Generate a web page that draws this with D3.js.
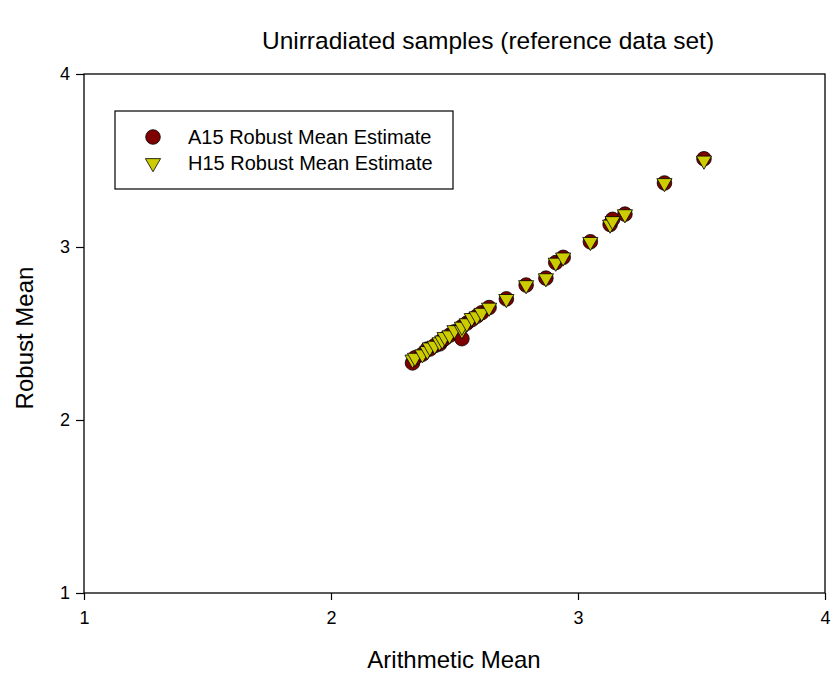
<!DOCTYPE html>
<html>
<head>
<meta charset="utf-8">
<script src="https://cdn.jsdelivr.net/npm/d3@7"></script>
<style>
  body { margin: 0; background: #fff; }
  text { font-family: "Liberation Sans", Arial, sans-serif; fill: #000; }
</style>
</head>
<body>
<svg id="chart" width="835" height="681"></svg>
<script>
// values
var arithMean = [2.33, 2.34, 2.37, 2.39, 2.40, 2.42, 2.44, 2.45, 2.46, 2.48, 2.50, 2.53, 2.53, 2.55, 2.57, 2.59, 2.61, 2.64, 2.71, 2.79, 2.87, 2.91, 2.94, 3.05, 3.13, 3.14, 3.19, 3.35, 3.51];
var a15Mean   = [2.33, 2.36, 2.38, 2.41, 2.41, 2.43, 2.44, 2.46, 2.47, 2.49, 2.51, 2.47, 2.54, 2.56, 2.58, 2.60, 2.62, 2.65, 2.70, 2.78, 2.82, 2.91, 2.94, 3.03, 3.13, 3.16, 3.19, 3.37, 3.51];
var h15Mean   = [2.35, 2.36, 2.38, 2.40, 2.42, 2.43, 2.45, 2.46, 2.48, 2.49, 2.52, 2.52, 2.54, 2.56, 2.59, 2.60, 2.62, 2.65, 2.70, 2.78, 2.82, 2.91, 2.94, 3.03, 3.13, 3.15, 3.19, 3.37, 3.50];
var xTicks = [1, 2, 3, 4];
var yTicks = [1, 2, 3, 4];
var seriesNames = ["A15 Robust Mean Estimate", "H15 Robust Mean Estimate"];

var svg = d3.select("#chart");
var plotL = 84, plotR = 825, plotT = 74, plotB = 593;

var x = d3.scaleLinear().domain([1, 4]).range([plotL, plotR]);
var y = d3.scaleLinear().domain([1, 4]).range([plotB, plotT]);

// frame
svg.append("rect")
    .attr("x", plotL).attr("y", plotT)
    .attr("width", plotR - plotL).attr("height", plotB - plotT)
    .attr("fill", "none").attr("stroke", "#000").attr("stroke-width", 1.3);

var xAxis = svg.append("g")
    .attr("transform", "translate(0," + plotB + ")")
    .call(d3.axisBottom(x).tickValues(xTicks).tickFormat(d3.format("d")).tickSize(7).tickPadding(11));
var yAxis = svg.append("g")
    .attr("transform", "translate(" + plotL + ",0)")
    .call(d3.axisLeft(y).tickValues(yTicks).tickFormat(d3.format("d")).tickSize(8).tickPadding(6));

[xAxis, yAxis].forEach(function(g) {
    g.select(".domain").remove();
    g.selectAll("line").attr("stroke", "#000").attr("stroke-width", 1.2);
    g.selectAll("text").attr("font-size", 18).attr("font-family", "Liberation Sans, Arial, sans-serif").attr("fill", "#000");
});

// titles
svg.append("text").attr("x", 488).attr("y", 49).attr("text-anchor", "middle")
    .attr("font-size", 24.5).text("Unirradiated samples (reference data set)");
svg.append("text").attr("x", 454).attr("y", 668).attr("text-anchor", "middle")
    .attr("font-size", 24).text("Arithmetic Mean");
svg.append("text").attr("transform", "translate(33,338) rotate(-90)").attr("text-anchor", "middle")
    .attr("font-size", 24).text("Robust Mean");

var circleColor = "#800000", triColor = "#cccc00";
var tri = d3.symbol().type(d3.symbolTriangle).size(100);

// A15 circles
svg.append("g").selectAll("circle")
    .data(arithMean)
    .join("circle")
    .attr("cx", function(d) { return x(d); })
    .attr("cy", function(d, i) { return y(a15Mean[i]); })
    .attr("r", 7.3)
    .attr("fill", circleColor)
    .attr("stroke", "#000").attr("stroke-width", 0.8);

// H15 triangles
svg.append("g").selectAll("path")
    .data(arithMean)
    .join("path")
    .attr("d", tri)
    .attr("transform", function(d, i) { return "translate(" + x(d) + "," + y(h15Mean[i]) + ") rotate(180)"; })
    .attr("fill", triColor)
    .attr("stroke", "#000").attr("stroke-width", 0.8);

// legend
var lg = svg.append("g");
lg.append("rect").attr("x", 115).attr("y", 111).attr("width", 338).attr("height", 78)
    .attr("fill", "#fff").attr("stroke", "#000").attr("stroke-width", 1.2);
lg.append("circle").attr("cx", 153).attr("cy", 137).attr("r", 7.3)
    .attr("fill", circleColor).attr("stroke", "#000").attr("stroke-width", 0.8);
lg.append("path").attr("d", tri).attr("transform", "translate(153,163) rotate(180)")
    .attr("fill", triColor).attr("stroke", "#000").attr("stroke-width", 0.8);
lg.selectAll("text.lab")
    .data(seriesNames)
    .join("text").attr("class", "lab")
    .attr("x", 188).attr("y", function(d, i) { return 144 + i * 26; })
    .attr("font-size", 20).text(function(d) { return d; });
</script>
</body>
</html>
